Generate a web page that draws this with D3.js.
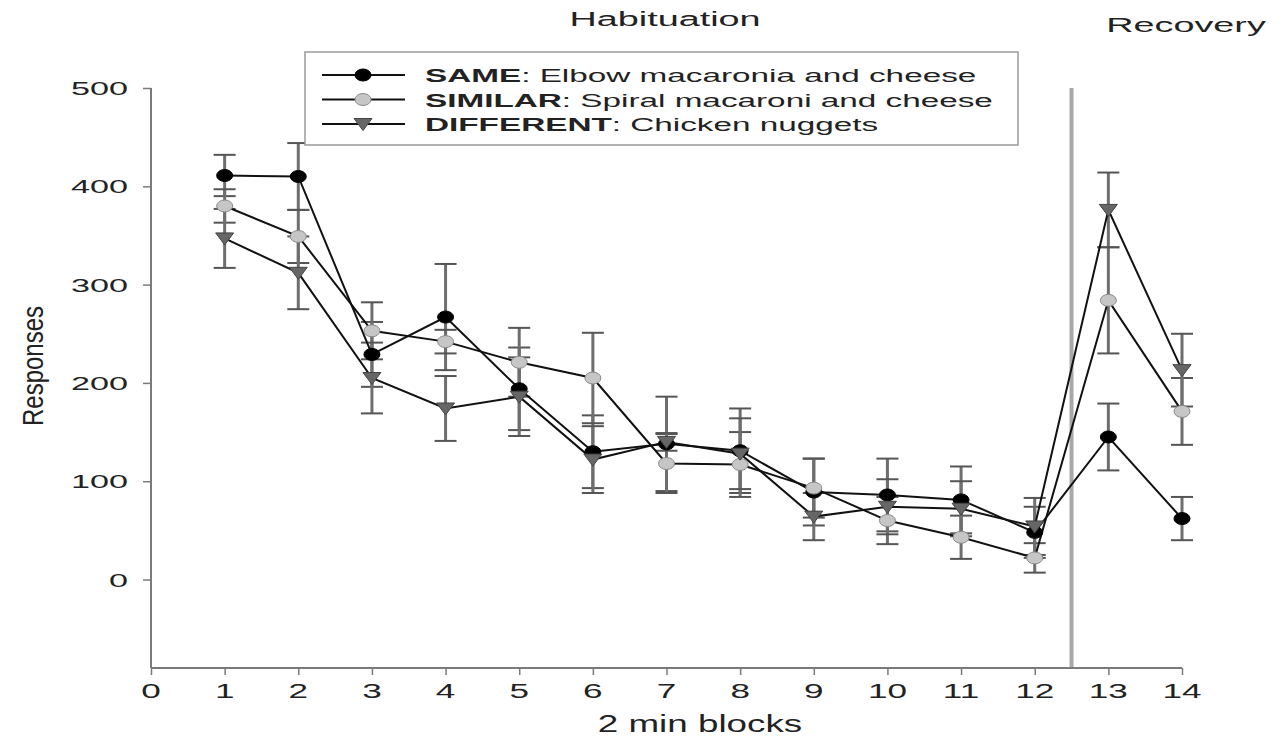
<!DOCTYPE html>
<html><head><meta charset="utf-8">
<script src="https://cdn.jsdelivr.net/npm/d3@7"></script>
<style>body{margin:0;background:#fff}text{font-family:"Liberation Sans",Arial,sans-serif}</style>
</head><body>
<svg id="c" width="1279" height="740"></svg>
<script>
const blocks = [1,2,3,4,5,6,7,8,9,10,11,12,13,14];
const sameVals = [411,410,229,267,194,130,138,131,89,86,81,48,145,62];
const sameErr  = [21,34,33,54,42,37,48,43,34,37,34,26,34,22];
const similarVals = [380,349,253,242,221,205,118,117,93,60,43,22,284,171];
const similarErr  = [17,27,29,12,35,46,30,33,30,24,22,15,54,34];
const differentVals = [347,312,205,174,186,122,140,128,64,74,72,54,376,213];
const differentErr  = [30,37,36,33,40,34,9,36,24,28,28,29,38,37];
const xTicks = [0,1,2,3,4,5,6,7,8,9,10,11,12,13,14];
const yTicks = [0,100,200,300,400,500];
const seriesNames = ["SAME","SIMILAR","DIFFERENT"];
const seriesDesc = [": Elbow macaronia and cheese",": Spiral macaroni and cheese",": Chicken nuggets"];
const phaseLabels = ["Habituation","Recovery"];
const divider = 12.5;

const SX = 1.8;
const svg = d3.select("#c");
const x = d3.scaleLinear().domain([0,14]).range([151,1182]);
const y = d3.scaleLinear().domain([-90,500]).range([668,88]);
const axisCol = "#7a7a7a";

function stext(g, tx, ty, str, size, anchor, weight, sx){
  return g.append("text").attr("transform",`translate(${tx},${ty}) scale(${sx||SX},1)`)
    .attr("text-anchor",anchor||"start").attr("font-size",size)
    .attr("font-weight",weight||"normal").attr("fill","#222").text(str);
}

// divider
svg.append("line").attr("x1",x(divider)).attr("x2",x(divider)).attr("y1",y(500)).attr("y2",y(-90))
  .attr("stroke","#a8a8a8").attr("stroke-width",4);

// axes
const yAxis = d3.axisLeft(y).tickValues(yTicks).tickSize(8).tickFormat("");
const gy = svg.append("g").attr("transform",`translate(${x(0)},0)`).call(yAxis);
gy.select(".domain").attr("stroke",axisCol).attr("stroke-width",2).attr("d",`M-0,${y(500)}V${y(-90)}`);
gy.selectAll(".tick line").attr("stroke",axisCol).attr("stroke-width",1.5);
yTicks.forEach(t=>stext(svg,128,y(t)+7,String(t),19,"end"));

const xAxis = d3.axisBottom(x).tickValues(xTicks).tickSize(7).tickFormat("");
const gx = svg.append("g").attr("transform",`translate(0,${y(-90)})`).call(xAxis);
gx.select(".domain").attr("stroke",axisCol).attr("stroke-width",2).attr("d",`M${x(0)},0H${x(14)}`);
gx.selectAll(".tick line").attr("stroke",axisCol).attr("stroke-width",1.5);
xTicks.forEach(t=>stext(svg,x(t),698,String(t),19.5,"middle"));

stext(svg,700,732,"2 min blocks",23,"middle",null,1.6);
svg.append("text").attr("transform",`translate(43,366) rotate(-90) scale(1,1.2)`)
  .attr("text-anchor","middle").attr("font-size",24).attr("fill","#222").text("Responses");
stext(svg,665,26,phaseLabels[0],21,"middle");
stext(svg,1186,32,phaseLabels[1],21,"middle");

const series = [
  {vals:sameVals, err:sameErr, shape:"circle", fill:"#000", stroke:"#000"},
  {vals:similarVals, err:similarErr, shape:"circle", fill:"#c6c6c6", stroke:"#8a8a8a"},
  {vals:differentVals, err:differentErr, shape:"tri", fill:"#666", stroke:"#444"}
];

function marker(g, cx, cy, s){
  if(s.shape==="circle"){
    g.append("ellipse").attr("cx",cx).attr("cy",cy).attr("rx",8).attr("ry",6)
      .attr("fill",s.fill).attr("stroke",s.stroke).attr("stroke-width",1);
  } else {
    g.append("path").attr("d",`M${cx-9},${cy-5.5}L${cx+9},${cy-5.5}L${cx},${cy+6.5}Z`)
      .attr("fill",s.fill).attr("stroke",s.stroke).attr("stroke-width",1);
  }
}

// error bars
const eg = svg.append("g");
series.forEach(s=>{
  blocks.forEach((b,i)=>{
    const cx=x(b), t=y(s.vals[i]+s.err[i]), bt=y(s.vals[i]-s.err[i]);
    eg.append("line").attr("x1",cx).attr("x2",cx).attr("y1",t).attr("y2",bt).attr("stroke","#6e6e6e").attr("stroke-width",3);
    [t,bt].forEach(yy=>eg.append("line").attr("x1",cx-11).attr("x2",cx+11).attr("y1",yy).attr("y2",yy).attr("stroke","#555").attr("stroke-width",2));
  });
});

const line = d3.line().x((d,i)=>x(blocks[i])).y(d=>y(d));
series.forEach(s=>{
  svg.append("path").attr("d",line(s.vals)).attr("fill","none").attr("stroke","#111").attr("stroke-width",2);
});
series.forEach(s=>{
  const g = svg.append("g");
  blocks.forEach((b,i)=>marker(g,x(b),y(s.vals[i]),s));
});

// legend
const lg = svg.append("g");
lg.append("rect").attr("x",305).attr("y",52).attr("width",713).attr("height",93)
  .attr("fill","#fff").attr("stroke","#9a9a9a").attr("stroke-width",1.5);
series.forEach((s,i)=>{
  const ly = 75 + i*24.5;
  lg.append("line").attr("x1",322).attr("x2",405).attr("y1",ly).attr("y2",ly).attr("stroke","#111").attr("stroke-width",2);
  marker(lg,363,ly,s);
  const t = lg.append("text").attr("transform",`translate(425,${ly+7}) scale(${SX},1)`).attr("font-size",18.5).attr("fill","#222");
  t.append("tspan").attr("font-weight","bold").text(seriesNames[i]);
  t.append("tspan").text(seriesDesc[i]);
});
</script>
</body></html>
